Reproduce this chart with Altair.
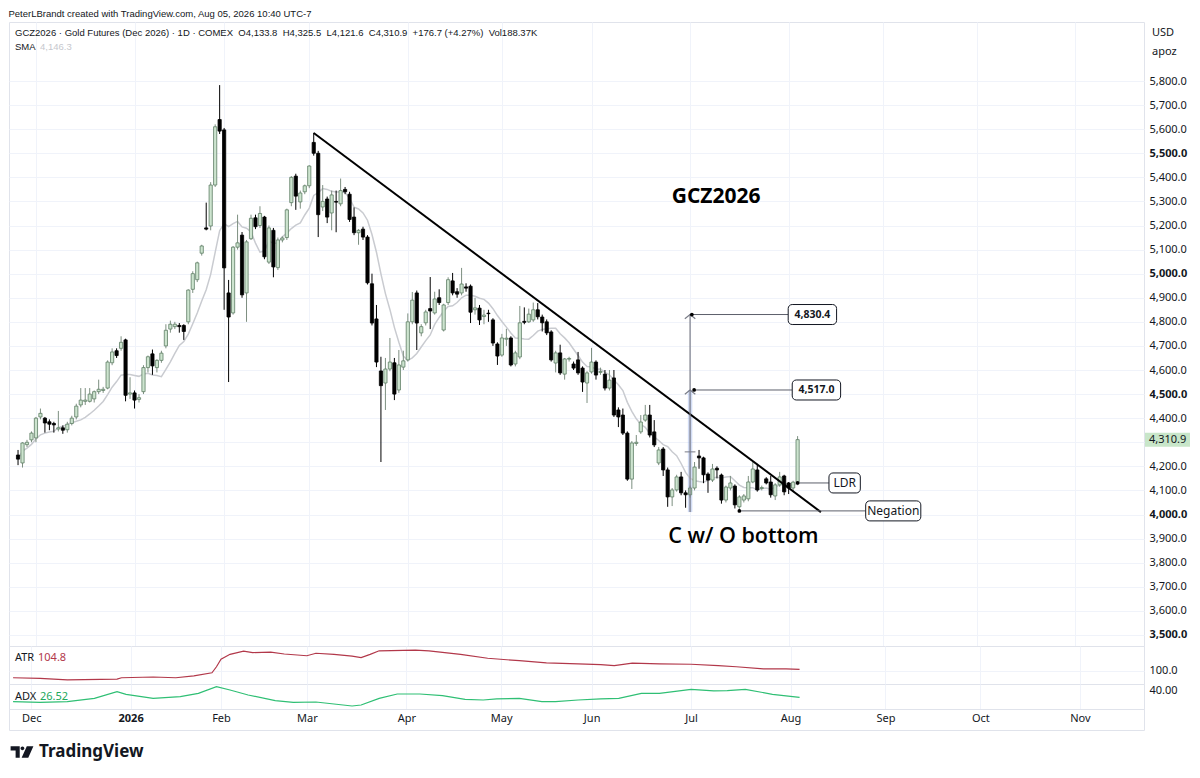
import altair as alt
import pandas as pd
import numpy as np

FONT = "Noto Sans"
HFONT = "Liberation Sans"
TXT = "#131722"
GRID = "#f0f3fa"
FRAME = "#e0e3eb"

# ---------------- OHLC (daily bars) ----------------
opens = [4247, 4214, 4290, 4310, 4318, 4405, 4400, 4385, 4378, 4355,
         4360, 4352, 4378, 4405, 4455, 4470, 4470, 4480, 4510, 4515,
         4525, 4630, 4680, 4690, 4725, 4500, 4505, 4478, 4510, 4610,
         4667, 4610, 4640, 4700, 4770, 4780, 4785, 4785, 4800, 4935,
         4975, 5085, 5190, 5198, 5368, 5640, 5597, 4920, 4837, 5110,
         5160, 4920, 5145, 5232, 5200, 5235, 5048, 5180, 5025, 5140,
         5150, 5295, 5405, 5298, 5340, 5365, 5545, 5500, 5277, 5310,
         5252, 5300, 5290, 5350, 5330, 5235, 5170, 5185, 5152, 4958,
         4812, 4596, 4546, 4604, 4630, 4517, 4612, 4642, 4800, 4920,
         4754, 4796, 4855, 4837, 4900, 4766, 4880, 4970, 4925, 4920,
         4945, 4948, 4850, 4857, 4822, 4836, 4808, 4708, 4662, 4728,
         4733, 4625, 4654, 4802, 4800, 4808, 4850, 4820, 4800, 4758,
         4629, 4671, 4583, 4645, 4625, 4642, 4608, 4546, 4592, 4633,
         4590, 4583, 4525, 4567, 4434, 4413, 4338, 4147, 4295, 4343,
         4392, 4413, 4343, 4214, 4272, 4185, 4073, 4102, 4156, 4090,
         4082, 4110, 4243, 4235, 4168, 4143, 4192, 4164, 4060, 4110,
         4118, 4032, 4060, 4065, 4135, 4185, 4108, 4148, 4135, 4077,
         4123, 4160, 4131, 4110, 4133.8]
highs = [4268, 4300, 4310, 4345, 4405, 4440, 4405, 4395, 4385, 4430,
         4370, 4385, 4410, 4460, 4525, 4525, 4525, 4515, 4560, 4530,
         4640, 4690, 4690, 4740, 4730, 4570, 4515, 4500, 4620, 4660,
         4685, 4645, 4680, 4790, 4805, 4800, 4795, 4790, 4935, 5010,
         5050, 5120, 5295, 5380, 5620, 5783, 5605, 4974, 5115, 5245,
         5173, 5140, 5245, 5245, 5280, 5240, 5200, 5190, 5150, 5155,
         5270, 5405, 5415, 5345, 5370, 5450, 5585, 5510, 5368, 5320,
         5345, 5345, 5395, 5360, 5340, 5275, 5185, 5195, 5160, 5000,
         4870, 4655, 4650, 4733, 4650, 4683, 4680, 4835, 4924, 4930,
         4790, 4850, 4986, 4925, 4935, 4875, 4985, 5003, 4940, 5024,
         4960, 4955, 4900, 4870, 4850, 4850, 4815, 4715, 4750, 4771,
         4740, 4680, 4866, 4860, 4855, 4880, 4878, 4830, 4810, 4765,
         4680, 4705, 4650, 4655, 4635, 4675, 4615, 4595, 4692, 4640,
         4610, 4600, 4600, 4600, 4445, 4440, 4345, 4305, 4330, 4413,
         4455, 4455, 4392, 4280, 4280, 4195, 4110, 4165, 4177, 4100,
         4120, 4218, 4268, 4240, 4175, 4210, 4200, 4170, 4120, 4160,
         4125, 4080, 4085, 4160, 4218, 4210, 4120, 4155, 4160, 4130,
         4177, 4165, 4135, 4140, 4325.5]
lows = [4205, 4195, 4280, 4300, 4300, 4395, 4340, 4350, 4340, 4345,
        4335, 4340, 4370, 4395, 4445, 4455, 4465, 4465, 4500, 4505,
        4520, 4620, 4650, 4680, 4470, 4480, 4440, 4465, 4500, 4590,
        4580, 4590, 4630, 4690, 4755, 4770, 4755, 4725, 4790, 4920,
        4965, 5075, 5180, 5180, 5360, 5580, 4850, 4550, 4830, 5100,
        4900, 4800, 5140, 5185, 5190, 5060, 5040, 4985, 5015, 5130,
        5140, 5280, 5265, 5270, 5330, 5355, 5490, 5152, 5260, 5210,
        5180, 5172, 5280, 5330, 5215, 5160, 5120, 5140, 4955, 4785,
        4612, 4218, 4434, 4595, 4475, 4505, 4600, 4635, 4790, 4683,
        4740, 4785, 4770, 4830, 4870, 4760, 4870, 4910, 4900, 4910,
        4925, 4795, 4830, 4787, 4790, 4800, 4700, 4621, 4655, 4700,
        4615, 4615, 4645, 4790, 4795, 4800, 4810, 4760, 4745, 4635,
        4590, 4580, 4560, 4635, 4600, 4580, 4509, 4463, 4585, 4560,
        4580, 4515, 4515, 4405, 4363, 4330, 4140, 4106, 4285, 4335,
        4385, 4320, 4280, 4205, 4160, 4032, 4035, 4095, 4080, 4028,
        4070, 4100, 4190, 4130, 4090, 4135, 4150, 4045, 4050, 4100,
        4025, 4015, 4050, 4055, 4130, 4095, 4100, 4125, 4070, 4060,
        4115, 4080, 4085, 4095, 4121.6]
closes = [4230, 4297, 4300, 4338, 4400, 4420, 4380, 4375, 4372, 4360,
          4350, 4375, 4400, 4450, 4475, 4475, 4500, 4510, 4520, 4520,
          4633, 4675, 4660, 4715, 4495, 4505, 4475, 4485, 4610, 4655,
          4617, 4640, 4670, 4765, 4790, 4790, 4780, 4760, 4932, 5000,
          5045, 5115, 5185, 5368, 5610, 5592, 5024, 4820, 5110, 5128,
          4912, 5132, 5230, 5195, 5250, 5070, 5190, 5028, 5140, 5148,
          5265, 5400, 5322, 5335, 5365, 5447, 5500, 5245, 5300, 5235,
          5327, 5297, 5345, 5340, 5225, 5170, 5180, 5152, 4962, 4795,
          4633, 4535, 4604, 4633, 4500, 4621, 4638, 4800, 4890, 4795,
          4780, 4841, 4845, 4895, 4880, 4870, 4975, 4920, 4915, 4957,
          4940, 4840, 4858, 4808, 4828, 4834, 4712, 4658, 4733, 4732,
          4621, 4671, 4796, 4798, 4832, 4850, 4821, 4796, 4754, 4642,
          4671, 4588, 4646, 4648, 4608, 4588, 4550, 4588, 4633, 4579,
          4594, 4525, 4558, 4413, 4405, 4338, 4147, 4297, 4300, 4384,
          4413, 4330, 4289, 4268, 4185, 4073, 4102, 4156, 4090, 4082,
          4110, 4197, 4235, 4165, 4143, 4189, 4185, 4060, 4114, 4131,
          4040, 4073, 4077, 4135, 4189, 4102, 4112, 4131, 4082, 4123,
          4156, 4094, 4110, 4134.2, 4310.9]

# exchange holidays (no bar); the calendar also gives the future months of the axis
holidays = ["2025-11-27", "2025-12-25", "2026-01-01", "2026-01-19", "2026-02-16",
            "2026-04-03", "2026-05-25", "2026-07-03", "2026-09-07"]

# ---------------- indicators ----------------
atr_idx = [0, 6, 12, 23, 24, 31, 36, 40, 44, 45, 46, 48, 51, 53, 57, 60, 65, 67, 71, 75,
           77, 79, 81, 89, 92, 99, 105, 112, 118, 125, 130, 133, 137, 143, 150, 156, 160, 166, 171, 174]
atr_val = [81, 79, 75, 77, 81, 83, 81, 86, 95, 112, 133, 147, 156, 152, 153, 148, 143, 150, 147, 142,
           138, 147, 157, 159, 157, 147, 136, 129, 123, 120, 118, 115, 122, 120, 119, 115, 112, 106, 106, 104.8]
adx_idx = [0, 6, 12, 18, 23, 25, 31, 37, 41, 45, 48, 52, 58, 62, 67, 71, 75, 77, 81, 85,
           90, 95, 100, 104, 107, 112, 117, 120, 125, 130, 134, 139, 143, 150, 155, 158, 162, 168, 174]
adx_val = [18.4, 17.2, 18.4, 24.6, 36.9, 32, 24.6, 27.6, 33.9, 46.1, 40, 30.8, 20.2, 17.2, 17.8, 14.1, 10.4, 12.3, 24.6, 32.6,
           32.6, 29.5, 22.8, 21.5, 23.4, 24.6, 18.4, 18.4, 21.5, 23.4, 24.6, 33.9, 33.9, 41.3, 38.2, 38.7, 41.3, 32, 26.52]

# ---------------- annotations (in bar-index / price space) ----------------
trend_x = [66, 179.2]
trend_y = [5584, 4010]
proj_bar = 150                       # measured-move bar
proj_base = 4010
proj_targets = [4830.4, 4517.0]
band_x = [149.5, 150.5]
band_y = [4010, 4517.0]
mid_tick_y = 4260
box_labels = ["4,830.4", "4,517.0", "LDR", "Negation"]
box_from_x = [150.4, 150.9, 174, 161]
box_price = [4830.4, 4517.0, 4131, 4015]
box_left = [171.9, 172.8, 181.0, 189.2]
box_right = [182.7, 183.6, 188.0, 201.5]
box_bold = [True, True, False, False]
big_text = ["GCZ2026", "C w/ O bottom"]
big_x = [155.8, 161.9]
big_y = [5318, 3907]

title_text = "PeterLBrandt created with TradingView.com, Aug 05, 2026 10:40 UTC-7"
symbol_text = "GCZ2026 · Gold Futures (Dec 2026) · 1D · COMEX"
volume_text = "Vol188.37K"
sma_value_text = "4,146.3"
price_ticks = list(range(3500, 5801, 100))

# ---------------- frames ----------------
n = len(closes)
all_days = pd.bdate_range("2025-11-24", "2026-11-30", freq="C", holidays=holidays)
candles = pd.DataFrame({
    "idx": np.arange(n), "date": all_days[:n].strftime("%Y-%m-%d"),
    "open": opens, "high": highs, "low": lows, "close": closes})
candles["dir"] = np.where(candles["close"] >= candles["open"], "up", "down")

month_idx, month_lab = [], []
for i in range(1, len(all_days)):
    if all_days[i].month != all_days[i - 1].month:
        month_idx.append(int(i))
        month_lab.append(str(all_days[i].year) if all_days[i].month == 1 else all_days[i].strftime("%b"))
year_idx = [i for i, l in zip(month_idx, month_lab) if l.isdigit()]
label_expr = " : ".join(f"datum.value == {i} ? '{l}'" for i, l in zip(month_idx, month_lab)) + " : ''"

chg = closes[-1] - closes[-2]
SP = "\u00a0\u00a0"
header_text = (f"{symbol_text}{SP}O{opens[-1]:,.1f}{SP}H{highs[-1]:,.1f}{SP}L{lows[-1]:,.1f}{SP}"
               f"C{closes[-1]:,.1f}{SP}{chg:+.1f} ({chg / closes[-2] * 100:+.2f}%){SP}{volume_text}")

W = 1135
H_MAIN, H_ATR, H_ADX, H_TIME = 624, 38, 25, 21
xscale = alt.Scale(domain=[-0.9, 250.2], nice=False, zero=False)
xgrid = alt.Axis(values=month_idx, labels=False, ticks=False, domain=False, grid=True,
                 gridColor=GRID, title=None)
yscale = alt.Scale(domain=[3454, 6045], nice=False, zero=False)
yaxis = alt.Axis(orient="right", values=price_ticks, labelFont=FONT, labelFontSize=11,
                 labelExpr=f"abs(datum.value - {closes[-1]}) < 30 ? '' : format(datum.value, ',.1f')",
                 labelColor=TXT, labelPadding=5, ticks=False, domain=False, grid=True, gridColor=GRID,
                 title=None, labelOverlap=False, labelFlush=False,
                 labelFontWeight={"condition": {"test": "datum.value % 500 === 0", "value": "bold"},
                                  "value": "normal"})


def X(f):
    return alt.X(f, type="quantitative", scale=xscale, axis=xgrid)


def Y(f):
    return alt.Y(f, type="quantitative", scale=yscale, axis=yaxis)


base = alt.Chart(candles)
sma = base.transform_window(sma="mean(close)", frame=[-8, 0], sort=[alt.SortField("idx")]).mark_line(
    color="#c9cbd0", strokeWidth=1.5).encode(x=X("idx"), y=Y("sma:Q"))
wicks = base.mark_rule(strokeWidth=1).encode(
    x=X("idx"), y=Y("low"), y2="high:Q",
    color=alt.Color("dir:N", scale=alt.Scale(domain=["up", "down"], range=["#7d8f80", "#000000"]), legend=None))
bodies = base.mark_bar(width=3.2, strokeWidth=0.8).encode(
    x=X("idx"), y=Y("open"), y2="close:Q",
    fill=alt.Fill("dir:N", scale=alt.Scale(domain=["up", "down"], range=["#cde4cf", "#000000"]), legend=None),
    stroke=alt.Stroke("dir:N", scale=alt.Scale(domain=["up", "down"], range=["#5e7d64", "#000000"]), legend=None))

band = alt.Chart(pd.DataFrame({"x": [band_x[0]], "x2": [band_x[1]], "y": [band_y[0]], "y2": [band_y[1]]})).mark_rect(
    color="#7f9be0", opacity=0.35).encode(x=X("x"), x2="x2:Q", y=Y("y"), y2="y2:Q")
trend = alt.Chart(pd.DataFrame({"x": [trend_x[0]], "x2": [trend_x[1]], "y": [trend_y[0]], "y2": [trend_y[1]]})).mark_rule(
    color="#000000", strokeWidth=2).encode(x=X("x"), x2="x2:Q", y=Y("y"), y2="y2:Q")
proj = alt.Chart(pd.DataFrame({"x": [proj_bar], "y": [proj_base], "y2": [max(proj_targets)]})).mark_rule(
    color="#787b86", strokeWidth=1.2).encode(x=X("x"), y=Y("y"), y2="y2:Q")
midtick = alt.Chart(pd.DataFrame({"x": [band_x[0] - 0.7], "x2": [band_x[1] + 0.7], "y": [mid_tick_y]})).mark_rule(
    color="#787b86", strokeWidth=1).encode(x=X("x"), x2="x2:Q", y=Y("y"))
heads = alt.Chart(pd.DataFrame({"x": [proj_bar] * len(proj_targets), "y": proj_targets})).mark_point(
    shape="M-1,0.8L0,0L1,0.8", filled=False, size=110, color="#787b86", strokeWidth=1.2, opacity=1).encode(
    x=X("x"), y=Y("y"))

boxes_df = pd.DataFrame({"label": box_labels, "xf": box_from_x, "y": box_price, "l": box_left,
                         "r": box_right, "bold": box_bold})
boxes_df["c"] = (boxes_df["l"] + boxes_df["r"]) / 2
bb = alt.Chart(boxes_df)
pointers = bb.mark_rule(color="#5d606b", strokeWidth=1).encode(x=X("xf"), x2="l:Q", y=Y("y"))
dots = bb.mark_circle(size=14, color="#000000", opacity=1).encode(x=X("xf"), y=Y("y"))
rects = bb.mark_rect(fill="white", stroke=TXT, strokeWidth=1, cornerRadius=4, yOffset=-10, y2Offset=10).encode(
    x=X("l"), x2="r:Q", y=Y("y"), y2="y:Q")
num_txt = bb.transform_filter("datum.bold").mark_text(font=FONT, fontSize=10.5, fontWeight="bold", color=TXT).encode(
    x=X("c"), y=Y("y"), text="label:N")
word_txt = bb.transform_filter("!datum.bold").mark_text(font=FONT, fontSize=12, color=TXT).encode(
    x=X("c"), y=Y("y"), text="label:N")

big_df = pd.DataFrame({"t": big_text, "x": big_x, "y": big_y})
big1 = alt.Chart(big_df.iloc[[0]]).mark_text(font="Open Sans", fontSize=21, fontWeight="bold", color="#000000").encode(
    x=X("x"), y=Y("y"), text="t:N")
big2 = alt.Chart(big_df.iloc[[1]]).mark_text(font="Open Sans", fontSize=21.5, fontWeight=600, color="#000000").encode(
    x=X("x"), y=Y("y"), text="t:N")

last = candles.iloc[[n - 1]]
tag_rect = alt.Chart(last).mark_rect(fill="#c8e6c9", yOffset=-7, y2Offset=7).encode(
    x=alt.value(W + 1), x2=alt.value(W + 46), y=Y("close"), y2="close:Q")
tag_txt = alt.Chart(last).mark_text(font=FONT, fontSize=11, color=TXT, align="left").encode(
    x=alt.value(W + 5), y=Y("close"), text=alt.Text("close:Q", format=",.1f"))

HSIZE = 9.5
hdr = alt.Chart(pd.DataFrame({"t": [header_text]})).mark_text(
    font=HFONT, fontSize=HSIZE, color=TXT, align="left", baseline="middle").encode(
    x=alt.value(6), y=alt.value(11), text="t:N")
sma_lbl = alt.Chart(pd.DataFrame({"t": ["SMA"]})).mark_text(
    font=HFONT, fontSize=HSIZE, color=TXT, align="left", baseline="middle").encode(
    x=alt.value(6), y=alt.value(25), text="t:N")
sma_val = alt.Chart(pd.DataFrame({"t": [sma_value_text]})).mark_text(
    font=HFONT, fontSize=HSIZE, color="#c6c8ce", align="left", baseline="middle").encode(
    x=alt.value(31), y=alt.value(25), text="t:N")
unit1 = alt.Chart(pd.DataFrame({"t": ["USD"]})).mark_text(
    font=FONT, fontSize=11, color=TXT, align="left", baseline="middle").encode(
    x=alt.value(W + 8), y=alt.value(11), text="t:N")
unit2 = alt.Chart(pd.DataFrame({"t": ["apoz"]})).mark_text(
    font=FONT, fontSize=11, color=TXT, align="left", baseline="middle").encode(
    x=alt.value(W + 8), y=alt.value(30), text="t:N")

main = alt.layer(band, sma, wicks, bodies, trend, proj, midtick, heads, pointers, dots, rects, num_txt,
                 word_txt, big1, big2, tag_rect, tag_txt, hdr, sma_lbl, sma_val, unit1, unit2).properties(
    width=W, height=H_MAIN)

# ---------------- ATR pane ----------------
atr_df = pd.DataFrame({"idx": atr_idx, "v": atr_val})
atr_scale = alt.Scale(domain=[63.3, 170.5], nice=False, zero=False)
atr_axis = alt.Axis(orient="right", values=[100], format=".1f", labelFont=FONT, labelFontSize=11, labelColor=TXT,
                    labelPadding=5, ticks=False, domain=False, grid=True, gridColor=GRID, title=None)
ATR_C = "#b2384a"
atr_line = alt.Chart(atr_df).mark_line(color=ATR_C, strokeWidth=1.2).encode(
    x=X("idx"), y=alt.Y("v:Q", scale=atr_scale, axis=atr_axis))
atr_lab = alt.Chart(pd.DataFrame({"t": ["ATR"]})).mark_text(font=FONT, fontSize=11, color=TXT, align="left").encode(
    x=alt.value(6), y=alt.value(12), text="t:N")
atr_last = alt.Chart(atr_df.iloc[[-1]]).mark_text(font=FONT, fontSize=11, color=ATR_C, align="left").encode(
    x=alt.value(29), y=alt.value(12), text=alt.Text("v:Q", format=".1f"))
atr = alt.layer(atr_line, atr_lab, atr_last).properties(width=W, height=H_ATR)

# ---------------- ADX pane ----------------
adx_df = pd.DataFrame({"idx": adx_idx, "v": adx_val})
adx_scale = alt.Scale(domain=[4.85, 51.1], nice=False, zero=False)
adx_axis = alt.Axis(orient="right", values=[40], format=".2f", labelFont=FONT, labelFontSize=11, labelColor=TXT,
                    labelPadding=5, ticks=False, domain=False, grid=False, title=None)
ADX_C = "#2fbf74"
adx_line = alt.Chart(adx_df).mark_line(color=ADX_C, strokeWidth=1.2).encode(
    x=X("idx"), y=alt.Y("v:Q", scale=adx_scale, axis=adx_axis))
adx_lab = alt.Chart(pd.DataFrame({"t": ["ADX"]})).mark_text(font=FONT, fontSize=11, color=TXT, align="left").encode(
    x=alt.value(6), y=alt.value(13), text="t:N")
adx_last = alt.Chart(adx_df.iloc[[-1]]).mark_text(font=FONT, fontSize=11, color="#22a85c", align="left").encode(
    x=alt.value(31), y=alt.value(13), text=alt.Text("v:Q", format=".2f"))
adx = alt.layer(adx_line, adx_lab, adx_last).properties(width=W, height=H_ADX)

# ---------------- time axis strip + logo ----------------
taxis = alt.Axis(values=month_idx, labelExpr=label_expr, labelFont=FONT, labelFontSize=11, labelColor=TXT,
                 ticks=False, domain=False, grid=False, offset=-H_TIME, labelPadding=3, title=None,
                 labelFlush=False, labelOverlap=False,
                 labelFontWeight={"condition": {"test": f"datum.value == {year_idx[0]}", "value": "bold"},
                                  "value": "normal"})
strip_pts = alt.Chart(pd.DataFrame({"idx": month_idx})).mark_point(opacity=0).encode(
    x=alt.X("idx:Q", scale=xscale, axis=taxis), y=alt.value(10))
logo = alt.Chart(pd.DataFrame({"t": ["logo"]})).mark_point(
    shape="M-1,-0.5H-0.2V0.5H-0.56V-0.14H-1Z M-0.13,-0.32A0.17,0.17 0 1 0 0.21,-0.32A0.17,0.17 0 1 0 -0.13,-0.32Z M0.42,-0.5H1L0.55,0.5H-0.03Z",
    filled=True, size=520, color=TXT, opacity=1).encode(x=alt.value(13), y=alt.value(43))
brand = alt.Chart(pd.DataFrame({"t": ["TradingView"]})).mark_text(
    font=FONT, fontSize=17, fontWeight="bold", color=TXT, align="left", baseline="middle").encode(
    x=alt.value(30), y=alt.value(43), text="t:N")
strip = alt.layer(strip_pts, logo, brand).properties(width=W, height=H_TIME)

chart = alt.vconcat(main, atr, adx, strip, spacing=0, bounds="flush").properties(
    title=alt.TitleParams(text=title_text, anchor="start", font=HFONT, fontSize=9.5, fontWeight="normal",
                          color=TXT, offset=3),
    padding={"left": 0, "right": 0, "top": 1, "bottom": 0},
    background="white",
).configure_view(stroke=FRAME, strokeWidth=1).configure_concat(spacing=0)

chart.save("out.html", embed_options={"renderer": "svg", "actions": False})
